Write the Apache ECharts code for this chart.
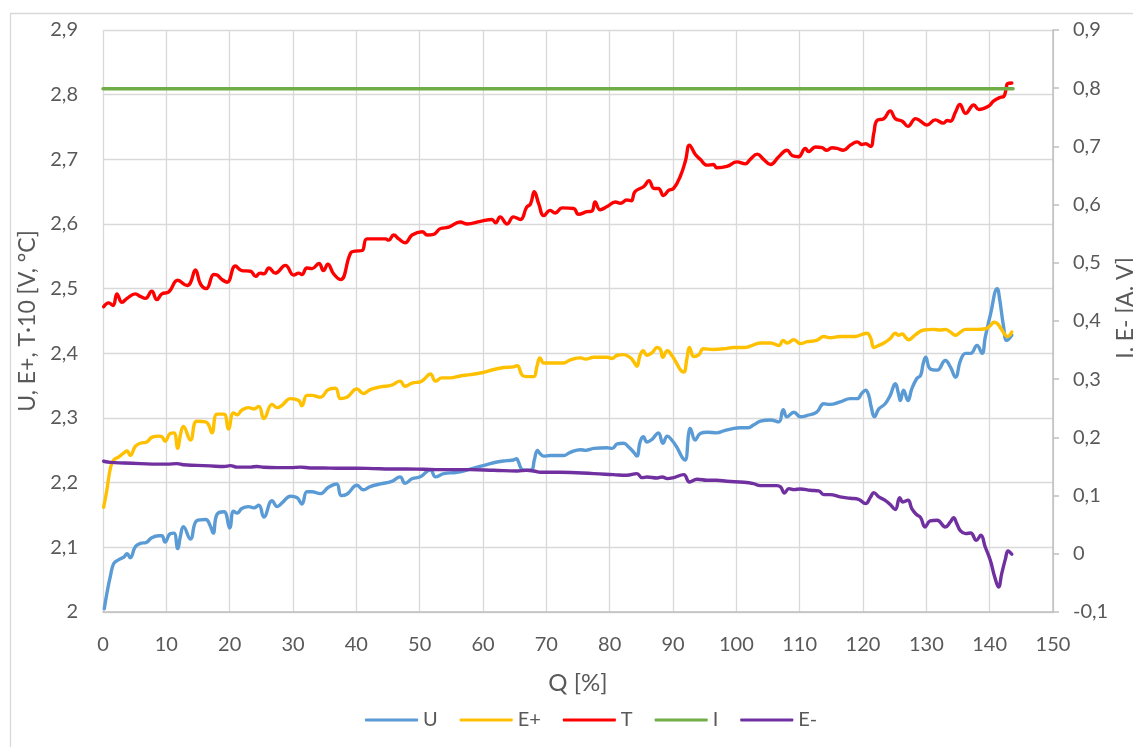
<!DOCTYPE html>
<html><head><meta charset="utf-8">
<script src="https://cdn.jsdelivr.net/npm/echarts@6/dist/echarts.min.js"></script>
<style>html,body{margin:0;padding:0;background:#fff;overflow:hidden}#c{width:1133px;height:747px}</style>
</head><body><div id="c"></div>
<script>
// ---- data (Q [%], value) ----
const seriesNames = ['U', 'E+', 'T', 'I', 'E-'];
const xTicks = { min: 0, max: 150, step: 10 };
const leftTicks = { min: 2.0, max: 2.9, step: 0.1 };
const rightTicks = { min: -0.1, max: 0.9, step: 0.1 };

const dataU = [[0.2,2.005],[0.6,2.028],[1.2,2.057],[1.7,2.075],[2.5,2.081],[3.3,2.085],[3.8,2.090],[4.3,2.084],[5.1,2.101],[5.9,2.106],[6.9,2.108],[7.7,2.115],[8.8,2.118],[9.3,2.118],[9.8,2.108],[10.6,2.121],[11.2,2.122],[11.8,2.098],[12.2,2.116],[12.7,2.132],[13.8,2.113],[14.8,2.141],[16.2,2.143],[16.9,2.134],[17.4,2.122],[18.0,2.151],[19.1,2.155],[20.0,2.130],[20.6,2.156],[21.2,2.153],[21.9,2.160],[23.0,2.163],[23.8,2.161],[24.6,2.165],[25.4,2.147],[26.7,2.172],[27.5,2.163],[28.3,2.169],[29.6,2.179],[30.6,2.177],[31.4,2.167],[32.2,2.186],[33.0,2.186],[34.3,2.183],[35.6,2.193],[36.9,2.198],[37.6,2.180],[38.5,2.182],[40.1,2.196],[41.1,2.189],[42.2,2.194],[43.8,2.198],[45.6,2.202],[46.9,2.209],[47.7,2.199],[48.8,2.206],[50.1,2.209],[51.7,2.220],[52.5,2.209],[53.8,2.214],[55.9,2.216],[58.0,2.221],[60.6,2.228],[62.2,2.232],[63.8,2.234],[64.8,2.235],[65.3,2.237],[65.6,2.232],[66.2,2.220],[66.9,2.219],[67.7,2.220],[68.1,2.235],[68.6,2.250],[69.0,2.245],[69.6,2.241],[70.6,2.242],[72.7,2.242],[73.8,2.247],[75.4,2.251],[76.2,2.250],[77.5,2.253],[79.6,2.254],[80.4,2.253],[81.2,2.260],[82.2,2.261],[83.0,2.255],[83.8,2.247],[84.3,2.241],[84.8,2.263],[85.3,2.271],[85.9,2.263],[86.7,2.267],[87.7,2.277],[88.4,2.261],[89.1,2.272],[89.8,2.266],[90.6,2.255],[91.4,2.240],[91.9,2.235],[92.5,2.278],[92.7,2.284],[93.5,2.266],[94.3,2.276],[95.4,2.278],[96.9,2.277],[98.0,2.280],[99.6,2.284],[100.6,2.285],[101.9,2.285],[102.7,2.289],[103.8,2.295],[105.4,2.297],[106.7,2.294],[107.4,2.313],[108.0,2.302],[109.1,2.309],[110.1,2.302],[111.2,2.304],[112.7,2.309],[113.8,2.322],[114.8,2.321],[116.4,2.325],[118.0,2.330],[119.1,2.330],[119.8,2.338],[120.4,2.343],[120.9,2.335],[121.3,2.317],[121.8,2.302],[122.5,2.314],[123.5,2.322],[124.3,2.335],[125.1,2.353],[125.6,2.338],[125.9,2.327],[126.4,2.343],[127.1,2.327],[127.7,2.345],[128.5,2.361],[129.1,2.366],[129.5,2.384],[129.9,2.394],[130.6,2.376],[131.7,2.374],[133.0,2.389],[133.8,2.379],[134.6,2.363],[135.4,2.389],[136.2,2.400],[137.0,2.400],[138.0,2.412],[138.8,2.400],[139.3,2.425],[140.1,2.459],[141.2,2.500],[141.6,2.482],[142.2,2.441],[142.7,2.420],[143.5,2.428]];

const dataEplus = [[0.1,2.162],[0.6,2.188],[1.2,2.224],[1.7,2.235],[2.5,2.240],[3.3,2.246],[3.8,2.249],[4.3,2.242],[5.1,2.256],[5.9,2.261],[6.9,2.263],[7.7,2.270],[8.8,2.272],[9.3,2.271],[9.8,2.264],[10.6,2.276],[11.2,2.277],[11.8,2.253],[12.2,2.273],[12.7,2.287],[13.8,2.266],[14.8,2.295],[16.2,2.294],[16.7,2.289],[17.2,2.277],[18.0,2.306],[19.1,2.306],[19.8,2.283],[20.6,2.308],[21.2,2.305],[21.9,2.312],[23.0,2.316],[23.8,2.314],[24.6,2.318],[25.4,2.299],[26.7,2.321],[27.5,2.316],[28.3,2.320],[29.6,2.330],[30.9,2.327],[31.4,2.319],[32.2,2.335],[33.0,2.335],[34.3,2.332],[35.6,2.344],[36.7,2.346],[37.5,2.330],[38.5,2.332],[40.1,2.345],[41.1,2.338],[42.2,2.344],[43.8,2.348],[45.6,2.351],[46.9,2.357],[47.7,2.349],[48.8,2.354],[50.1,2.356],[50.6,2.359],[51.7,2.368],[52.5,2.357],[53.5,2.362],[54.8,2.362],[56.4,2.365],[58.0,2.367],[59.8,2.370],[61.7,2.375],[63.3,2.378],[64.8,2.379],[65.4,2.381],[66.2,2.366],[66.9,2.364],[68.0,2.364],[68.5,2.379],[69.0,2.393],[69.6,2.385],[70.6,2.385],[72.7,2.385],[73.8,2.390],[75.4,2.393],[76.2,2.391],[77.5,2.394],[79.6,2.394],[80.4,2.392],[81.2,2.397],[82.2,2.398],[83.3,2.393],[83.8,2.387],[84.3,2.380],[84.8,2.397],[85.3,2.404],[85.9,2.397],[86.7,2.401],[87.5,2.409],[88.0,2.406],[88.4,2.394],[89.1,2.404],[89.8,2.397],[90.6,2.384],[91.2,2.374],[91.7,2.371],[92.2,2.392],[92.6,2.409],[93.3,2.395],[94.1,2.398],[94.8,2.407],[96.4,2.406],[98.0,2.407],[99.6,2.409],[101.2,2.409],[102.2,2.411],[103.8,2.416],[105.4,2.416],[106.7,2.412],[107.4,2.420],[108.0,2.416],[109.1,2.421],[110.1,2.415],[111.2,2.418],[112.7,2.420],[113.8,2.426],[114.8,2.424],[116.4,2.426],[118.8,2.426],[119.8,2.429],[120.6,2.431],[121.2,2.424],[121.7,2.409],[122.2,2.411],[123.3,2.416],[124.3,2.423],[125.1,2.431],[125.6,2.428],[126.2,2.430],[126.7,2.425],[127.2,2.421],[128.3,2.429],[129.6,2.436],[131.2,2.437],[132.2,2.436],[133.0,2.437],[133.8,2.433],[134.6,2.428],[135.4,2.433],[136.2,2.437],[138.0,2.437],[139.3,2.438],[140.1,2.443],[140.7,2.448],[141.2,2.446],[141.8,2.438],[142.5,2.428],[142.8,2.426],[143.5,2.433]];

const dataT = [[0.1,2.472],[0.9,2.478],[1.6,2.474],[2.2,2.492],[3.0,2.479],[3.8,2.485],[5.1,2.492],[5.9,2.488],[6.7,2.485],[7.7,2.496],[8.5,2.483],[9.3,2.492],[10.4,2.495],[11.8,2.513],[13.3,2.505],[13.8,2.509],[14.6,2.529],[15.4,2.507],[16.3,2.500],[17.5,2.522],[18.0,2.521],[18.8,2.514],[19.6,2.510],[20.9,2.535],[21.9,2.528],[23.3,2.527],[24.1,2.519],[24.8,2.524],[25.4,2.523],[26.2,2.532],[27.2,2.524],[28.8,2.536],[30.1,2.521],[30.9,2.524],[31.4,2.522],[32.2,2.532],[33.0,2.531],[34.1,2.539],[34.8,2.528],[35.5,2.538],[36.4,2.523],[37.5,2.514],[39.1,2.555],[39.8,2.558],[40.9,2.559],[41.7,2.577],[44.6,2.577],[45.1,2.575],[45.9,2.583],[46.7,2.577],[47.7,2.571],[48.8,2.583],[50.4,2.588],[51.2,2.583],[52.2,2.584],[53.3,2.593],[54.6,2.595],[56.4,2.603],[57.5,2.600],[59.6,2.604],[61.4,2.607],[62.0,2.602],[62.7,2.611],[63.8,2.600],[64.8,2.611],[65.9,2.607],[66.9,2.626],[67.5,2.631],[68.1,2.650],[68.8,2.631],[69.6,2.613],[70.6,2.621],[71.4,2.617],[72.5,2.625],[74.3,2.624],[75.1,2.615],[76.4,2.619],[77.2,2.620],[77.7,2.634],[78.5,2.622],[79.6,2.627],[80.9,2.634],[81.7,2.632],[82.7,2.637],[83.4,2.636],[84.0,2.650],[85.4,2.658],[86.2,2.667],[87.0,2.655],[87.7,2.655],[88.5,2.644],[89.3,2.652],[90.1,2.655],[91.2,2.675],[92.0,2.699],[92.6,2.722],[93.5,2.708],[94.3,2.700],[95.4,2.691],[96.4,2.692],[96.9,2.687],[98.5,2.689],[100.1,2.696],[101.4,2.693],[102.2,2.700],[103.3,2.708],[104.3,2.700],[105.4,2.692],[106.7,2.704],[108.0,2.714],[108.8,2.706],[109.8,2.704],[110.9,2.717],[111.4,2.712],[112.5,2.719],[113.5,2.718],[114.3,2.714],[115.1,2.718],[115.9,2.717],[116.9,2.714],[118.0,2.722],[119.1,2.727],[119.8,2.723],[120.4,2.724],[121.2,2.720],[121.7,2.740],[122.2,2.760],[123.3,2.763],[124.3,2.775],[125.1,2.763],[126.2,2.759],[127.1,2.751],[128.3,2.763],[129.1,2.759],[130.1,2.753],[131.4,2.761],[132.7,2.756],[133.3,2.760],[133.8,2.759],[134.6,2.773],[135.3,2.785],[136.2,2.771],[137.5,2.784],[138.3,2.777],[139.8,2.782],[140.6,2.790],[141.7,2.796],[142.2,2.797],[142.6,2.809],[142.8,2.817],[143.5,2.818]];

const dataI = [[0.0,0.799],[30.0,0.799],[60.0,0.799],[90.0,0.799],[120.0,0.799],[143.7,0.799]];

const dataEminus = [[0.1,0.159],[1.2,0.157],[3.3,0.156],[5.9,0.155],[8.5,0.154],[10.1,0.154],[11.7,0.155],[12.7,0.153],[14.8,0.152],[16.9,0.151],[19.1,0.150],[20.1,0.1515],[21.2,0.149],[23.3,0.149],[24.3,0.150],[25.4,0.1486],[27.5,0.148],[29.6,0.148],[31.2,0.149],[32.7,0.1475],[34.8,0.1475],[36.9,0.147],[40.1,0.147],[42.7,0.1464],[45.4,0.1458],[48.0,0.1458],[50.6,0.1452],[53.3,0.1446],[55.9,0.1446],[58.0,0.1446],[61.7,0.1435],[65.4,0.1423],[66.9,0.1435],[68.0,0.1423],[69.1,0.140],[72.2,0.140],[77.5,0.1378],[80.6,0.136],[82.7,0.1349],[84.3,0.1378],[85.1,0.1309],[85.9,0.132],[87.5,0.1303],[88.3,0.132],[89.1,0.1292],[90.1,0.1309],[91.7,0.136],[92.6,0.1234],[93.8,0.128],[95.4,0.1263],[96.9,0.1263],[98.5,0.1246],[101.2,0.1229],[102.7,0.1206],[103.8,0.1171],[106.4,0.1171],[107.0,0.1148],[107.6,0.1045],[108.3,0.112],[109.1,0.1103],[110.1,0.1114],[111.7,0.1091],[113.0,0.108],[113.8,0.1017],[114.8,0.1017],[116.4,0.0977],[118.0,0.0954],[119.3,0.0937],[120.4,0.0862],[121.2,0.0977],[121.7,0.1051],[122.5,0.0977],[123.5,0.0919],[124.3,0.0845],[125.1,0.0759],[125.8,0.0965],[126.3,0.0891],[127.1,0.0919],[127.7,0.0776],[128.4,0.0679],[129.1,0.0622],[129.8,0.0461],[130.6,0.0564],[131.7,0.0576],[133.0,0.0461],[133.8,0.0547],[134.3,0.0622],[134.8,0.0519],[135.4,0.0392],[136.2,0.0347],[137.0,0.0358],[137.9,0.0232],[138.6,0.0318],[139.3,0.0117],[140.1,-0.0112],[140.8,-0.0398],[141.4,-0.057],[141.9,-0.0341],[142.5,-0.0083],[142.9,0.0049],[143.5,-0.0008]];

const seriesColors = ['#5B9BD5', '#FFC000', '#FF0000', '#70AD47', '#7030A0'];
const seriesData = [dataU, dataEplus, dataT, dataI, dataEminus];
const seriesAxis = [0, 0, 0, 1, 1];

// ---- chart ----
const TXT = '#595959';
const FONT = 'Lato, "Open Sans", sans-serif';
const fmt = v => String(Math.round(v * 10) / 10).replace('.', ',');

const chart = echarts.init(document.getElementById('c'), null, { renderer: 'canvas' });
chart.setOption({
  animation: false,
  backgroundColor: '#ffffff',
  textStyle: { fontFamily: FONT },
  graphic: [{
    type: 'rect', silent: true, z: -10,
    shape: { x: 10.5, y: 13.5, width: 1300, height: 900 },
    style: { fill: 'none', stroke: '#d9d9d9', lineWidth: 1.3 }
  }],
  grid: { left: 103, top: 30, width: 950, height: 582, containLabel: false, outerBoundsMode: 'none' },
  xAxis: {
    type: 'value', min: xTicks.min, max: xTicks.max, interval: xTicks.step,
    name: 'Q [%]', nameLocation: 'middle', nameGap: 59,
    nameTextStyle: { fontSize: 24, color: TXT, fontFamily: FONT },
    axisLine: { show: true, onZero: false, lineStyle: { color: '#bfbfbf', width: 1.5 } },
    axisTick: { show: false },
    axisLabel: { color: TXT, fontSize: 20, margin: 23, fontFamily: FONT, formatter: fmt },
    splitLine: { show: true, lineStyle: { color: '#d9d9d9', width: 1.3 } }
  },
  yAxis: [{
    type: 'value', position: 'left', min: leftTicks.min, max: leftTicks.max, interval: leftTicks.step,
    name: 'U, E+, T·10 [V, °C]', nameLocation: 'middle', nameRotate: 90, nameGap: 54,
    nameTextStyle: { fontSize: 23, color: TXT, fontFamily: FONT },
    axisLine: { show: false },
    axisTick: { show: false },
    axisLabel: { color: TXT, fontSize: 20, margin: 25, fontFamily: FONT, formatter: fmt },
    splitLine: { show: true, lineStyle: { color: '#d9d9d9', width: 1.3 } }
  }, {
    type: 'value', position: 'right', min: rightTicks.min, max: rightTicks.max, interval: rightTicks.step,
    name: 'I, E- [A. V]', nameLocation: 'middle', nameRotate: 90, nameGap: 61, nameMoveOverlap: false,
    nameTextStyle: { fontSize: 23, color: TXT, fontFamily: FONT, padding: [0, 0, 0, 26] },
    axisLine: { show: true, onZero: false, lineStyle: { color: '#bfbfbf', width: 1.5 } },
    axisTick: { show: true, inside: false, length: 6, lineStyle: { color: '#bfbfbf', width: 1.5 } },
    axisLabel: { color: TXT, fontSize: 20, margin: 20, fontFamily: FONT, formatter: fmt },
    splitLine: { show: false }
  }],
  legend: {
    data: seriesNames, left: 360, top: 705, icon: 'roundRect',
    itemWidth: 53, itemHeight: 3, itemGap: 22,
    textStyle: { color: TXT, fontSize: 20, fontFamily: FONT }
  },
  series: seriesNames.map((n, i) => ({
    name: n, type: 'line', yAxisIndex: seriesAxis[i], data: seriesData[i],
    showSymbol: false, symbol: 'none', smooth: 0.45,
    itemStyle: { color: seriesColors[i] },
    lineStyle: { color: seriesColors[i], width: 3.4, cap: 'round', join: 'round' },
    emphasis: { disabled: true }
  }))
});
</script></body></html>
